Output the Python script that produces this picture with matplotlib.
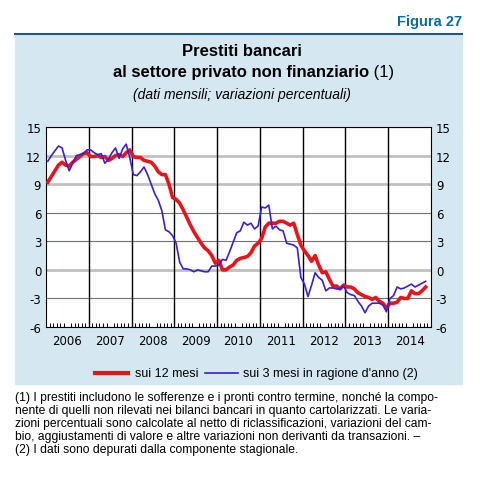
import matplotlib
matplotlib.use("Agg")
import matplotlib.pyplot as plt
import numpy as np
from matplotlib.patches import Rectangle
from matplotlib.lines import Line2D
plt.rcParams['axes.unicode_minus'] = False

years = ["2006","2007","2008","2009","2010","2011","2012","2013","2014"]
red = [9.2,9.8,10.4,11.0,11.3,11.0,10.9,11.3,11.6,11.9,12.2,12.3,
       11.9,11.9,12.0,11.8,11.9,11.5,11.7,12.0,12.1,11.9,12.3,12.6,
       11.9,11.8,11.8,11.5,11.4,11.3,10.9,10.3,10.0,10.0,9.0,7.6,
       7.4,7.0,6.3,5.5,4.7,4.0,3.4,2.8,2.3,2.0,1.5,0.7,
       1.0,0.0,0.0,0.3,0.5,1.0,1.2,1.3,1.4,1.8,2.5,2.8,
       3.3,4.5,4.9,4.9,4.9,5.1,5.1,4.9,4.7,4.9,3.7,2.6,
       2.0,1.5,0.9,1.5,0.5,-0.3,-0.2,-1.0,-1.7,-1.7,-2.0,-1.6,
       -1.8,-1.8,-2.0,-2.4,-2.6,-2.8,-2.9,-3.1,-2.9,-3.3,-3.5,-4.0,
       -3.5,-3.5,-3.4,-2.9,-3.0,-3.0,-2.2,-2.5,-2.5,-2.2,-1.8]
blue = [11.4,12.0,12.5,13.0,12.8,11.5,10.4,11.2,12.0,12.1,12.2,12.6,
        12.6,12.3,12.1,12.2,11.2,11.6,12.3,12.8,11.7,12.7,13.2,11.8,
        10.0,9.9,10.3,10.8,10.0,9.0,8.0,7.3,6.2,4.2,4.0,3.6,
        2.8,0.8,0.1,0.1,0.0,-0.2,0.0,-0.1,-0.2,-0.2,0.4,0.4,
        0.5,1.1,1.0,1.9,2.9,3.9,4.1,5.0,4.7,4.9,4.3,4.6,
        6.6,6.5,6.8,4.3,4.6,4.2,4.1,2.8,2.7,2.6,2.3,-0.8,
        -1.5,-2.8,-1.6,-0.3,-0.8,-1.1,-2.2,-1.9,-1.9,-2.0,-2.0,-1.7,
        -2.4,-2.6,-2.7,-3.3,-3.8,-4.5,-3.8,-3.5,-3.5,-3.5,-3.7,-4.4,
        -3.0,-2.7,-1.8,-2.0,-1.9,-1.7,-1.5,-1.8,-1.6,-1.4,-1.2]
yticks = [-6,-3,0,3,6,9,12,15]

fig = plt.figure(figsize=(4.83,4.85), dpi=100)
W,H = 483,485
def fx(p): return p/W
def fy(p): return 1-p/H

fig.text(fx(462), fy(22), "Figura 27", ha="right", va="center", fontsize=10.5, fontweight="bold", color="#0c6c9c", family="Liberation Sans")
fig.add_artist(Line2D([fx(15),fx(462)],[fy(35),fy(35)], color="#1a5a8a", lw=1.5))
fig.add_artist(Rectangle((fx(15),fy(385)), fx(447), fy(36)-fy(385), color="#d5e8f2", zorder=0))
fig.text(0.5, fy(52), "Prestiti bancari", ha="center", va="center", fontsize=12, fontweight="bold", family="Liberation Sans")
fig.text(0.5, fy(73), "al settore privato non finanziario", ha="center", va="center", fontsize=12, fontweight="bold", family="Liberation Sans")
fig.text(fx(369), fy(73), " (1)", ha="left", va="center", fontsize=12, family="Liberation Sans")
fig.text(0.5, fy(95), "(dati mensili; variazioni percentuali)", ha="center", va="center", fontsize=10, style="italic", family="Liberation Sans")

ax = fig.add_axes([fx(46), fy(328), fx(431-46), fy(128)-fy(328)])
n = len(red)
x = np.arange(n)
ax.set_xlim(-0.5, 107.5)
ax.set_ylim(-6, 15)
for v in yticks:
    lc = "#c0c0c0" if v in (0,9,12) else "#707070"
    ax.axhline(v, color=lc, lw=2 if v in (0,9,12) else 0.8, zorder=1)
for i in range(1,9):
    ax.axvline(12*i-0.5, color="black", lw=1, zorder=1)
ax.plot(x, red, color="#e8141c", lw=2.6, zorder=3)
ax.plot(x, blue, color="#3a1fd6", lw=1.2, zorder=4)
ax.set_yticks(yticks)
ax.tick_params(axis="y", length=0, labelsize=8.5, labelright=True)
ax.set_xticks(np.arange(0,108)-0.5, minor=True)
ax.tick_params(axis="x", which="minor", direction="in", length=3, width=0.7)
ax.set_xticks([12*i+5.5 for i in range(9)])
ax.set_xticklabels(years, fontsize=8.5)
ax.tick_params(axis="x", which="major", length=0, pad=5)
for s in ax.spines.values(): s.set_linewidth(0.8)

ly = 374
fig.add_artist(Line2D([fx(95),fx(128)],[fy(ly),fy(ly)], color="#e8141c", lw=3))
fig.text(fx(135), fy(ly), "sui 12 mesi", va="center", fontsize=9, family="Liberation Sans")
fig.add_artist(Line2D([fx(205),fx(238)],[fy(ly),fy(ly)], color="#3a1fd6", lw=1.2))
fig.text(fx(243), fy(ly), "sui 3 mesi in ragione d'anno (2)", va="center", fontsize=9, family="Liberation Sans")

foot = ("(1) I prestiti includono le sofferenze e i pronti contro termine, nonché la compo-\n"
        "nente di quelli non rilevati nei bilanci bancari in quanto cartolarizzati. Le varia-\n"
        "zioni percentuali sono calcolate al netto di riclassificazioni, variazioni del cam-\n"
        "bio, aggiustamenti di valore e altre variazioni non derivanti da transazioni. –\n"
        "(2) I dati sono depurati dalla componente stagionale.")
fig.text(fx(15), fy(392), foot, ha="left", va="top", fontsize=8.7, family="Liberation Sans", linespacing=1.12)
fig.savefig("out.png", dpi=100)
